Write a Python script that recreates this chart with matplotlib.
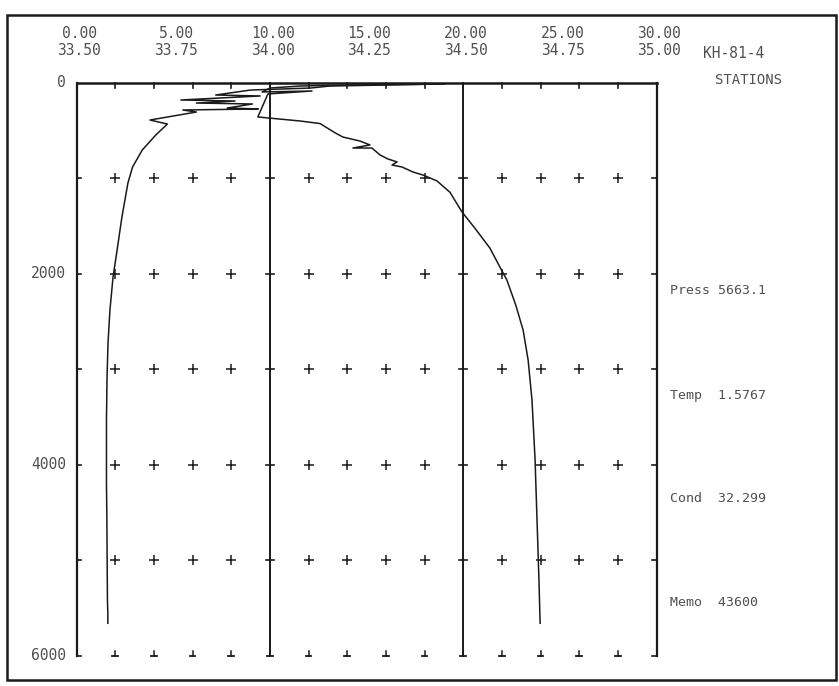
import matplotlib
matplotlib.use("Agg")
import matplotlib.pyplot as plt
from matplotlib.patches import Rectangle

# ---------------- data ----------------
temp_ticks = [0.0, 5.0, 10.0, 15.0, 20.0, 25.0, 30.0]
sal_ticks = [33.50, 33.75, 34.00, 34.25, 34.50, 34.75, 35.00]
depth_ticks = [0, 2000, 4000, 6000]
depth_minor = [1000, 2000, 3000, 4000, 5000]
grid_x = [2, 4, 6, 8, 10, 12, 14, 16, 18, 20, 22, 24, 26, 28]
line_x = [10, 20]

# temperature profile (depth m, deg C)
temp_depth = [16, 37, 58, 79, 131, 141, 183, 194, 215, 225, 267, 277, 288, 309,
              393, 435, 550, 707, 885, 1052, 1408, 1754, 2037, 2382, 2728,
              3084, 3534, 4194, 4550, 5419, 5555, 5663]
temp_val = [18.8, 13.1, 12.1, 9.0, 7.2, 9.5, 5.4, 8.2, 6.2, 9.1, 7.8, 9.4, 5.5, 6.2,
            3.8, 4.7, 4.1, 3.4, 2.9, 2.66, 2.35, 2.10, 1.89, 1.73, 1.63,
            1.58, 1.55, 1.55, 1.57, 1.60, 1.62, 1.62]

# salinity profile (depth m, psu)
sal_depth = [16, 26, 37, 58, 99, 89, 120, 361, 403, 430, 530, 571, 613, 654, 686,
             686, 759, 800, 832, 864, 885, 937, 969, 1030, 1150, 1356, 1524,
             1733, 1932, 2068, 2330, 2592, 2906, 3325, 3953, 4581, 5209, 5663]
sal_val = [34.453, 34.207, 34.078, 34.000, 33.980, 34.109, 33.995, 33.969,
           34.078, 34.130, 34.170, 34.189, 34.233, 34.259, 34.215, 34.264,
           34.285, 34.305, 34.329, 34.316, 34.342, 34.370, 34.396, 34.432,
           34.466, 34.497, 34.530, 34.569, 34.595, 34.613, 34.636, 34.655,
           34.668, 34.678, 34.686, 34.691, 34.696, 34.699]

side_labels = ["Press 5663.1", "Temp  1.5767", "Cond  32.299", "Memo  43600"]
title_lines = ["KH-81-4", "STATIONS"]

# ---------------- figure ----------------
W, H = 839, 686
fig = plt.figure(figsize=(W / 100, H / 100), dpi=100)
ink = "#1a1a1a"
txt = "#505050"
font = "DejaVu Sans Mono"

def fx(px):
    return px / W

def fy(py):
    return 1 - py / H

left_px, right_px, top_px, bot_px = 76.5, 656.5, 82.5, 655.5
ax = fig.add_axes([fx(left_px), fy(bot_px), (right_px - left_px) / W, (bot_px - top_px) / H])
ax.set_xlim(temp_ticks[0], temp_ticks[-1])
ax.set_ylim(6000, 0)
for s in ax.spines.values():
    s.set_visible(False)
ax.set_xticks([])
ax.set_yticks([])
ax.patch.set_alpha(0)

xmin, xmax = temp_ticks[0], temp_ticks[-1]
# frame lines: left, right, top
ax.plot([xmin, xmin], [0, 6000], color=ink, lw=1.6, clip_on=False)
ax.plot([xmax, xmax], [0, 6000], color=ink, lw=1.6, clip_on=False)
ax.plot([xmin, xmax], [0, 0], color=ink, lw=1.8, clip_on=False)
# vertical lines at 10 and 20
for v in line_x:
    ax.plot([v, v], [0, 6000], color=ink, lw=1.4, clip_on=False)
# left/right axis ticks
for d in depth_minor + [6000]:
    ax.plot([xmin, xmin + 0.25], [d, d], color=ink, lw=1.2, clip_on=False)
    ax.plot([xmax, xmax - 0.25], [d, d], color=ink, lw=1.2, clip_on=False)
# top ticks
for gx in grid_x:
    ax.plot([gx, gx], [0, 55], color=ink, lw=1.2, clip_on=False)
# crosses
xs = [g for g in grid_x if g not in line_x]
for d in depth_minor:
    ax.plot(xs, [d] * len(xs), ls="none", marker="+", ms=7, mew=1.1, color=ink, clip_on=False)
    for v in line_x:
        ax.plot([v - 0.22, v + 0.22], [d, d], color=ink, lw=1.2, clip_on=False)
# bottom row marks
for gx in grid_x:
    ax.plot([gx, gx], [6000, 5950], color=ink, lw=1.1, clip_on=False)
    ax.plot([gx - 0.15, gx + 0.15], [6000, 6000], color=ink, lw=1.3, clip_on=False)

# temperature curve
ax.plot(temp_val, temp_depth, color=ink, lw=1.1)

# salinity curve on twin axis
ax2 = ax.twiny()
ax2.set_xlim(sal_ticks[0], sal_ticks[-1])
ax2.set_ylim(6000, 0)
for s in ax2.spines.values():
    s.set_visible(False)
ax2.set_xticks([])
ax2.set_yticks([])
ax2.plot(sal_val, sal_depth, color=ink, lw=1.1)

# depth labels
for d in depth_ticks:
    ax.text(xmin - 0.55, d, f"{d}", ha="right", va="center", fontsize=10.5,
            family=font, color=txt)

# top scale labels
for t, s in zip(temp_ticks, sal_ticks):
    ax.text(t + 0.15, -518, f"{t:.2f}", ha="center", va="center", fontsize=10.5,
            family=font, color=txt, clip_on=False)
    ax2.text(s + 0.0075, -340, f"{s:.2f}", ha="center", va="center", fontsize=10.5,
             family=font, color=txt, clip_on=False)

fig.text(fx(703), fy(53), title_lines[0], ha="left", va="center", fontsize=10.5, family=font, color=txt)
fig.text(fx(715), fy(80), title_lines[1], ha="left", va="center", fontsize=10, family=font, color=txt)

for lab, py in zip(side_labels, [290, 395, 498, 602]):
    fig.text(fx(670), fy(py), lab, ha="left", va="center", fontsize=9.5, family=font, color=txt)

# outer frame
fig.add_artist(Rectangle((fx(7), fy(680)), fx(836) - fx(7), fy(15) - fy(680),
                         transform=fig.transFigure, fill=False, ec=ink, lw=1.8))

fig.savefig("out.png", dpi=100)
